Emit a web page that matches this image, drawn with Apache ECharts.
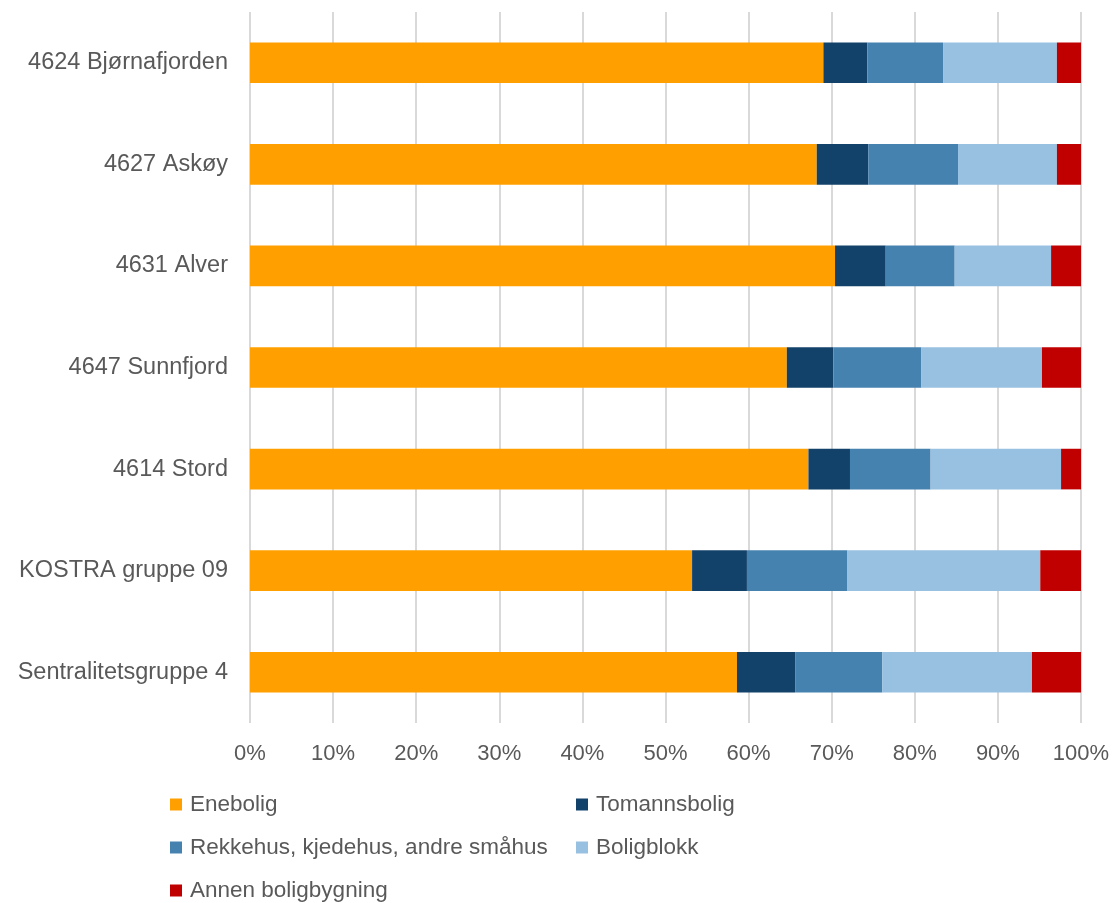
<!DOCTYPE html>
<html><head><meta charset="utf-8">
<script src="https://cdn.jsdelivr.net/npm/echarts@6/dist/echarts.min.js"></script>
<style>html,body{margin:0;padding:0;background:#fff}#c{width:1115px;height:903px}</style>
</head><body><div id="c"></div>
<script>
const categories = ["4624 Bjørnafjorden","4627 Askøy","4631 Alver","4647 Sunnfjord","4614 Stord","KOSTRA gruppe 09","Sentralitetsgruppe 4"];
const seriesNames = ["Enebolig","Tomannsbolig","Rekkehus, kjedehus, andre småhus","Boligblokk","Annen boligbygning"];
const enebolig = [69.0, 68.2, 70.4, 64.6, 67.2, 53.2, 58.6];
const tomannsbolig = [5.3, 6.2, 6.1, 5.6, 5.0, 6.6, 7.0];
const rekkehus = [9.1, 10.8, 8.3, 10.6, 9.7, 12.1, 10.5];
const boligblokk = [13.7, 11.9, 11.6, 14.5, 15.7, 23.2, 18.0];
const annen = [2.9, 2.9, 3.6, 4.7, 2.4, 4.9, 5.9];
const colors = ["#FFA000","#12426A","#4682B0","#98C1E1","#C00000"];
const values = [enebolig, tomannsbolig, rekkehus, boligblokk, annen];

const font = "'Liberation Sans', Arial, sans-serif";
const txt = "#595959";
const legendPos = [[170,793],[576,793],[170,836],[576,836],[170,879]];

const chart = echarts.init(document.getElementById('c'), null, {renderer:'canvas'});
chart.setOption({
  animation:false,
  grid:{left:250, right:34, top:12, bottom:180, containLabel:false},
  xAxis:{type:'value', min:0, max:100, interval:10,
    axisLabel:{formatter:'{value}%', color:txt, fontSize:22, fontFamily:font, margin:20},
    splitLine:{show:true, lineStyle:{color:'#d9d9d9', width:2}},
    axisLine:{show:false}, axisTick:{show:false}},
  yAxis:{type:'category', data:categories, inverse:true,
    axisLabel:{color:txt, fontSize:23.5, fontFamily:font, margin:22},
    axisLine:{show:false}, axisTick:{show:false}},
  legend: seriesNames.map((n,i)=>({data:[n], left:legendPos[i][0], top:legendPos[i][1], padding:0,
    icon:'rect', itemWidth:12, itemHeight:12, itemGap:6,
    textStyle:{color:txt, fontSize:22.5, fontFamily:font, padding:[0,0,0,3]}})),
  series: seriesNames.map((n,i)=>({name:n, type:'bar', stack:'total', data:values[i],
    barCategoryGap:'60%', itemStyle:{color:colors[i]}}))
});
</script></body></html>
